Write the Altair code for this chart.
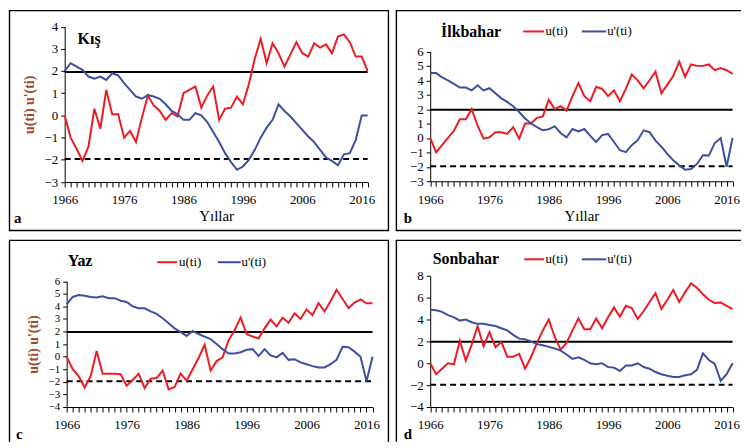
import altair as alt
import pandas as pd

years = list(range(1966, 2018))

# Kış (a)
kis_u = [0, -1.0, -1.5, -2.05, -1.4, 0.3, -0.6, 1.15, 0.05, 0.05,
         -1.0, -0.7, -1.2, -0.1, 0.9, 0.45, 0.2, -0.2, 0.1, -0.05,
         1.0, 1.15, 1.3, 0.35, 0.9, 1.3, -0.2, 0.3, 0.35, 0.85,
         0.5, 1.4, 2.55, 3.45, 2.35, 3.25, 2.8, 2.2, 2.75, 3.3,
         2.8, 2.65, 3.25, 3.05, 3.2, 2.8, 3.55, 3.65, 3.3, 2.65,
         2.65, 2.0]
kis_up = [2.0, 2.35, 2.2, 2.05, 1.75, 1.65, 1.75, 1.6, 1.9, 1.8,
          1.45, 1.15, 0.85, 0.75, 0.92, 0.85, 0.75, 0.5, 0.2, 0.05,
          -0.2, -0.2, 0.1, 0.0, -0.3, -0.75, -1.2, -1.7, -2.1, -2.45,
          -2.3, -2.0, -1.55, -1.0, -0.55, -0.2, 0.5, 0.2, -0.05, -0.35,
          -0.65, -0.95, -1.2, -1.55, -1.9, -2.05, -2.25, -1.75, -1.7, -1.1,
          0.0, 0.0]

# İlkbahar (b)
ilk_u = [0, -1.0, -0.5, 0.0, 0.5, 1.3, 1.3, 2.0, 0.85, -0.05,
         0.05, 0.4, 0.4, 0.28, 0.75, -0.05, 1.0, 1.0, 1.4, 1.5,
         2.65, 2.0, 2.2, 1.9, 2.9, 3.8, 2.9, 2.55, 3.55, 3.4,
         2.9, 3.3, 2.55, 3.4, 4.4, 4.0, 3.45, 4.0, 4.6, 3.1,
         3.7, 4.3, 5.3, 4.25, 5.1, 5.0, 5.0, 5.1, 4.7, 4.85,
         4.7, 4.45]
ilk_up = [4.5, 4.5, 4.2, 4.0, 3.75, 3.5, 3.5, 3.3, 3.65, 3.3,
          3.45, 3.1, 2.75, 2.5, 2.2, 1.8, 1.35, 1.0, 0.75, 0.53,
          0.6, 0.82, 0.35, 0.05, 0.62, 0.45, 0.62, 0.15, -0.28, 0.2,
          0.28, -0.28, -0.85, -0.98, -0.5, -0.15, 0.53, 0.4, -0.18, -0.6,
          -1.1, -1.55, -1.9, -2.2, -2.15, -1.8, -1.2, -1.22, -0.35, 0.0,
          -2.0, 0.0]

# Yaz (c)
yaz_u = [0, -1.0, -1.55, -2.45, -1.55, 0.45, -1.35, -1.35, -1.35, -1.4,
         -2.3, -1.85, -1.35, -2.5, -1.75, -1.7, -1.1, -2.6, -2.4, -1.35,
         -1.9, -1.0, -0.1, 0.95, -1.1, -0.35, -0.05, 1.3, 2.1, 3.1,
         1.8, 1.6, 1.45, 2.25, 2.95, 2.4, 3.1, 2.7, 3.45, 3.0,
         3.75, 3.3, 4.25, 3.6, 4.4, 5.3, 4.6, 3.85, 4.3, 4.55,
         4.25, 4.25]
yaz_up = [4.15, 4.75, 4.9, 4.85, 4.75, 4.7, 4.8, 4.65, 4.65, 4.45,
          4.35, 4.0, 3.85, 3.85, 3.6, 3.4, 3.05, 2.65, 2.25, 1.95,
          1.65, 2.05, 1.8, 1.6, 1.4, 1.0, 0.6, 0.25, 0.25, 0.35,
          0.55, 0.6, 0.05, 0.6, 0.1, -0.05, 0.3, -0.25, -0.2, -0.45,
          -0.6, -0.75, -0.85, -0.85, -0.6, -0.25, 0.78, 0.75, 0.4, 0.0,
          -1.95, 0.0]

# Sonbahar (d)
son_u = [0, -1.0, -0.5, 0.0, -0.1, 2.05, 0.25, 1.7, 3.4, 1.55,
         2.85, 1.45, 1.95, 0.6, 0.6, 0.85, -0.5, 0.55, 1.85, 3.0,
         4.0, 2.4, 1.25, 1.85, 3.0, 4.1, 3.1, 3.1, 4.1, 3.2,
         4.2, 5.1, 4.25, 5.25, 5.05, 4.05, 4.75, 5.6, 6.4, 4.95,
         5.8, 6.7, 5.6, 6.5, 7.3, 6.9, 6.3, 5.8, 5.5, 5.55,
         5.25, 4.95]
son_up = [4.9, 4.85, 4.7, 4.4, 4.2, 3.9, 4.0, 3.75, 3.6, 3.6,
          3.5, 3.4, 3.2, 3.0, 2.6, 2.25, 2.2, 2.0, 1.75, 1.65,
          1.5, 1.35, 1.15, 0.8, 0.4, 0.55, 0.3, 0.0, -0.1, 0.0,
          -0.35, -0.4, -0.7, -0.2, -0.2, 0.0, -0.35, -0.5, -0.8, -1.0,
          -1.15, -1.25, -1.25, -1.1, -1.0, -0.6, 0.9, 0.3, -0.05, -1.6,
          -1.0, 0.0]

SERIES = ["u(ti)", "u'(ti)"]
COLORS = ["#ed1c24", "#3d4fa3"]
FONT = "Liberation Serif"
YTITLE = "u(ti) u'(ti)"
XTITLE = "Yıllar"
CRIT_HI = 1.96
CRIT_LO = -1.96
YEAR0, YEAR1 = 1966, 2017


def blank():
    return alt.Chart(alt.Data(values=[{"k": 1}]))


def long_df(u, up):
    return pd.DataFrame({
        "year": years * 2,
        "value": u + up,
        "series": [SERIES[0]] * len(years) + [SERIES[1]] * len(years),
    })


def panel(u, up, W, H, plot_x, plot_y, ydomain, yticks, title_text, title_xy,
          letter, letter_xy, sides, ytitle=False, xtitle=False, legend=None,
          ylabel_size=13):
    px1, px2 = plot_x
    py1, py2 = plot_y  # top, bottom (pixels inside the frame)
    xkw = dict(values=years, format="d",
               labelExpr="(datum.value - 1966) % 10 == 0 ? datum.label : ''",
               labelOverlap=False, labelFlush=False, grid=False, tickSize=5,
               tickColor="black", domainColor="black", tickWidth=1,
               labelFont=FONT, labelFontSize=13, labelColor="black",
               labelPadding=7, titleFont=FONT, titleFontSize=15,
               titleFontWeight="normal", titleColor="black", titlePadding=2,
               offset=-(H - py2))
    xkw["title"] = XTITLE if xtitle else None
    ykw = dict(values=yticks, grid=False, tickSize=4, tickColor="black",
               domainColor="black", labelFont=FONT, labelFontSize=ylabel_size,
               labelColor="black", labelPadding=3, labelOverlap=False,
               titleFont=FONT, titleFontSize=14, titleFontWeight="bold",
               titleColor="#9e4b2e", titlePadding=8, offset=-px1)
    ykw["title"] = YTITLE if ytitle else None

    xscale = alt.Scale(domain=[YEAR0, YEAR1], range=[px1, px2], nice=False, zero=False)
    yscale = alt.Scale(domain=ydomain, range=[py2, py1], nice=False, zero=False)

    lines = alt.Chart(long_df(u, up)).mark_line(strokeWidth=2).encode(
        x=alt.X("year:Q", scale=xscale, axis=alt.Axis(**xkw)),
        y=alt.Y("value:Q", scale=yscale, axis=alt.Axis(**ykw)),
        color=alt.Color("series:N", scale=alt.Scale(domain=SERIES, range=COLORS),
                        legend=None),
    )

    def crit(val, **style):
        return blank().mark_rule(color="black", strokeWidth=2, **style).encode(
            x=alt.XDatum(YEAR0, type="quantitative", scale=xscale, axis=alt.Axis(**xkw)),
            x2=alt.X2Datum(YEAR1),
            y=alt.YDatum(val, type="quantitative", scale=yscale, axis=alt.Axis(**ykw)),
        )

    layers = [crit(CRIT_HI), crit(CRIT_LO, strokeDash=[6, 4]), lines]

    fr = dict(color="black", strokeWidth=1.4)
    e = 0.5
    if "T" in sides:
        layers.append(blank().mark_rule(**fr).encode(
            x=alt.value(0), x2=alt.value(W), y=alt.value(e)))
    if "B" in sides:
        layers.append(blank().mark_rule(**fr).encode(
            x=alt.value(0), x2=alt.value(W), y=alt.value(H - e)))
    if "L" in sides:
        layers.append(blank().mark_rule(**fr).encode(
            x=alt.value(e), y=alt.value(0), y2=alt.value(H)))
    if "R" in sides:
        layers.append(blank().mark_rule(**fr).encode(
            x=alt.value(W - e), y=alt.value(0), y2=alt.value(H)))

    layers.append(blank().mark_text(font=FONT, fontSize=16, fontWeight="bold",
                                    align="left", baseline="middle", color="black").encode(
        x=alt.value(title_xy[0]), y=alt.value(title_xy[1]), text=alt.value(title_text)))
    layers.append(blank().mark_text(font=FONT, fontSize=15, fontWeight="bold",
                                    align="left", baseline="middle", color="black").encode(
        x=alt.value(letter_xy[0]), y=alt.value(letter_xy[1]), text=alt.value(letter)))

    if legend is not None:
        ly, spans = legend
        for i, name in enumerate(SERIES):
            x1, x2, tx = spans[i]
            layers.append(blank().mark_rule(color=COLORS[i], strokeWidth=2).encode(
                x=alt.value(x1), x2=alt.value(x2), y=alt.value(ly)))
            layers.append(blank().mark_text(font=FONT, fontSize=13, align="left",
                                            baseline="middle", color="black").encode(
                x=alt.value(tx), y=alt.value(ly), text=alt.value(name)))

    return alt.layer(*layers).properties(width=W, height=H)


pa = panel(kis_u, kis_up, 382, 222, (56, 360.6), (16.5, 172.8), [-3, 4], list(range(-3, 5)),
           "Kış", (69, 29), "a", (5, 209), "TBLR", ytitle=True, xtitle=True)
pb = panel(ilk_u, ilk_up, 347, 222, (34.5, 338.5), (41.5, 172), [-3, 6], list(range(-3, 7)),
           "İlkbahar", (45.4, 22.4), "b", (8, 209), "TBL", xtitle=True,
           legend=(21.4, [(128, 149, 150.5), (187, 211.5, 212.4)]))
pc = panel(yaz_u, yaz_up, 382, 203, (58, 365.5), (41.5, 168), [-4, 6], list(range(-4, 7)),
           "Yaz", (59, 21.5), "c", (7, 195), "TLR", ytitle=True,
           legend=(22.4, [(149, 169, 171), (210, 233, 233.8)]), ylabel_size=11)
pd_ = panel(son_u, son_up, 347, 203, (34.5, 338.5), (36, 168), [-4, 8], list(range(-4, 9, 2)),
            "Sonbahar", (37, 19.5), "d", (8, 195), "TL",
            legend=(19.5, [(129, 149, 150.5), (187, 211.5, 212.4)]))

top = alt.hconcat(pa, pb, spacing=5)
bottom = alt.hconcat(pc, pd_, spacing=5)
chart = alt.vconcat(top, bottom, spacing=7).properties(
    padding=0, background="white"
).configure_view(stroke=None)

chart.save("out.html", embed_options={"renderer": "svg", "actions": False})
